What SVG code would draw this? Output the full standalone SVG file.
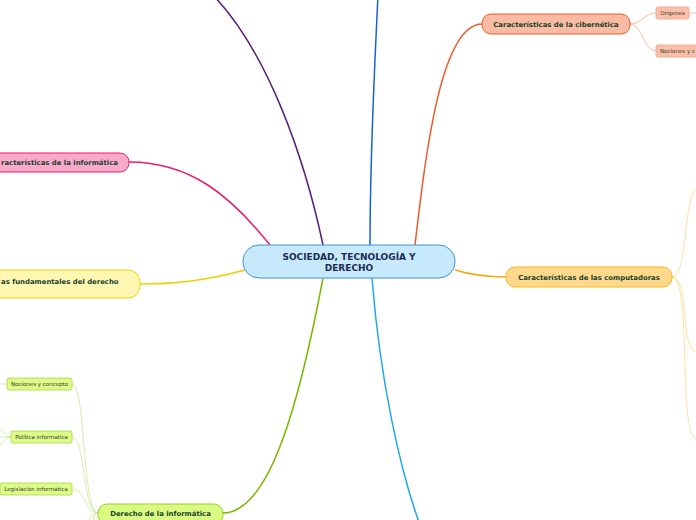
<svg xmlns="http://www.w3.org/2000/svg" width="696" height="520" viewBox="0 0 696 520">
<style>
.c{fill:none;stroke-width:1.5}
.s{fill:none;stroke-width:0.8}
.t{font-family:"DejaVu Sans",Verdana,sans-serif;font-weight:bold;fill:#17402c;text-anchor:middle;font-size:6.9px}
.st{font-family:"DejaVu Sans",Verdana,sans-serif;fill:#3a3a2a;text-anchor:middle;font-size:5.5px}
</style>
<rect width="696" height="520" fill="#ffffff"/>
<g id="connectors">
<path class="c" stroke="#5a1a78" d="M323,245 C305,160 268,50 210,-8"/>
<path class="c" stroke="#1a5fd6" d="M370,245 C370,150 375,60 378,-5"/>
<path class="c" stroke="#ec5a2c" d="M415,245 C425,160 440,24 482,24"/>
<path class="c" stroke="#ec1a6e" d="M270,245 C230,195 190,162 129,162"/>
<path class="c" stroke="#ecd000" d="M245,270 C200,282 170,284 140,284"/>
<path class="c" stroke="#f5a800" d="M455,270 C475,276 490,277 506,277"/>
<path class="c" stroke="#7ab800" d="M323,278 C300,400 270,513 223,513"/>
<path class="c" stroke="#1ea8f0" d="M372,278 C380,380 400,470 420,525"/>
<path class="s" stroke="#f8a890" d="M630,24 C642,24 644,13 656,13"/>
<path class="s" stroke="#f8a890" d="M630,24 C642,24 644,51 656,51"/>
<path class="s" stroke="#f8a890" d="M689,13 L696,13"/>
<path class="s" stroke="#fcd88a" d="M672,277 C688,277 684,193 696,190"/>
<path class="s" stroke="#fcd88a" d="M672,277 C690,277 680,350 696,352"/>
<path class="s" stroke="#fcd88a" d="M672,277 C692,277 678,437 696,438"/>
<path class="s" stroke="#c8e890" d="M98,513 C82,513 86,384 72,384"/>
<path class="s" stroke="#c8e890" d="M98,513 C82,513 86,437 72,437"/>
<path class="s" stroke="#c8e890" d="M98,513 C84,513 86,489 72,489"/>
<path class="s" stroke="#c8e890" d="M98,513 C90,513 90,520 86,526"/>
<path class="s" stroke="#c8e890" d="M98,513 C92,513 94,520 92,528"/>
<path class="s" stroke="#c8e890" d="M7,384 L0,384"/>
<path class="s" stroke="#c8e890" d="M11,437 C6,437 4,431 0,429"/>
<path class="s" stroke="#c8e890" d="M11,437 L0,437"/>
<path class="s" stroke="#c8e890" d="M11,437 C6,437 4,443 0,445"/>
</g>
<g id="center">
<rect x="243" y="245" width="212" height="33" rx="16" fill="#c6eafb" stroke="#3d92d4" stroke-width="1"/>
<text class="t" x="349" y="259.5" style="fill:#1c2a52;font-size:9px">SOCIEDAD, TECNOLOGÍA Y</text>
<text class="t" x="349" y="271" style="fill:#1c2a52;font-size:9px">DERECHO</text>
</g>
<g id="cibernetica">
<rect x="482" y="14" width="148" height="20" rx="9" fill="#f9bba3" stroke="#ec5a2c" stroke-width="1"/>
<text class="t" x="556" y="26.5">Características de la cibernética</text>
</g>
<g id="origenes">
<rect x="656" y="7" width="33" height="12" rx="2" fill="#fbc0aa" stroke="#f7a088" stroke-width="0.8"/>
<text class="st" x="672.5" y="15">Orígenes</text>
</g>
<g id="nociones-cib">
<rect x="656" y="45" width="60" height="12" rx="2" fill="#fbc0aa" stroke="#f7a088" stroke-width="0.8"/>
<text class="st" x="660" y="53" style="text-anchor:start">Nociones y c</text>
</g>
<g id="informatica">
<rect x="-40" y="153" width="169" height="19" rx="9" fill="#f9a9c9" stroke="#ec1a6e" stroke-width="1"/>
<text class="t" x="1" y="165" style="text-anchor:start">racterísticas de la informática</text>
</g>
<g id="fundamentales">
<rect x="-60" y="270" width="200" height="28" rx="12" fill="#fff7b2" stroke="#f0d400" stroke-width="1"/>
<text class="t" x="1" y="283.5" style="text-anchor:start">as fundamentales del derecho</text>
</g>
<g id="computadoras">
<rect x="506" y="267" width="166" height="20" rx="9" fill="#fed98b" stroke="#f5b820" stroke-width="1"/>
<text class="t" x="589" y="279.5">Características de las computadoras</text>
</g>
<g id="derecho-informatica">
<rect x="98" y="504" width="125" height="20" rx="9" fill="#dafb82" stroke="#9ad024" stroke-width="1"/>
<text class="t" x="160.5" y="516">Derecho de la informática</text>
</g>
<g id="nociones-concepto">
<rect x="7" y="378" width="65" height="12" rx="2" fill="#dcfb88" stroke="#a8d840" stroke-width="0.8"/>
<text class="st" x="39.5" y="386">Nociones y concepto</text>
</g>
<g id="politica">
<rect x="11" y="431" width="61" height="12" rx="2" fill="#dcfb88" stroke="#a8d840" stroke-width="0.8"/>
<text class="st" x="41.5" y="439">Política informatica</text>
</g>
<g id="legislacion">
<rect x="0" y="483" width="72" height="12" rx="2" fill="#dcfb88" stroke="#a8d840" stroke-width="0.8"/>
<text class="st" x="36" y="491">Legislación informática</text>
</g>
</svg>
